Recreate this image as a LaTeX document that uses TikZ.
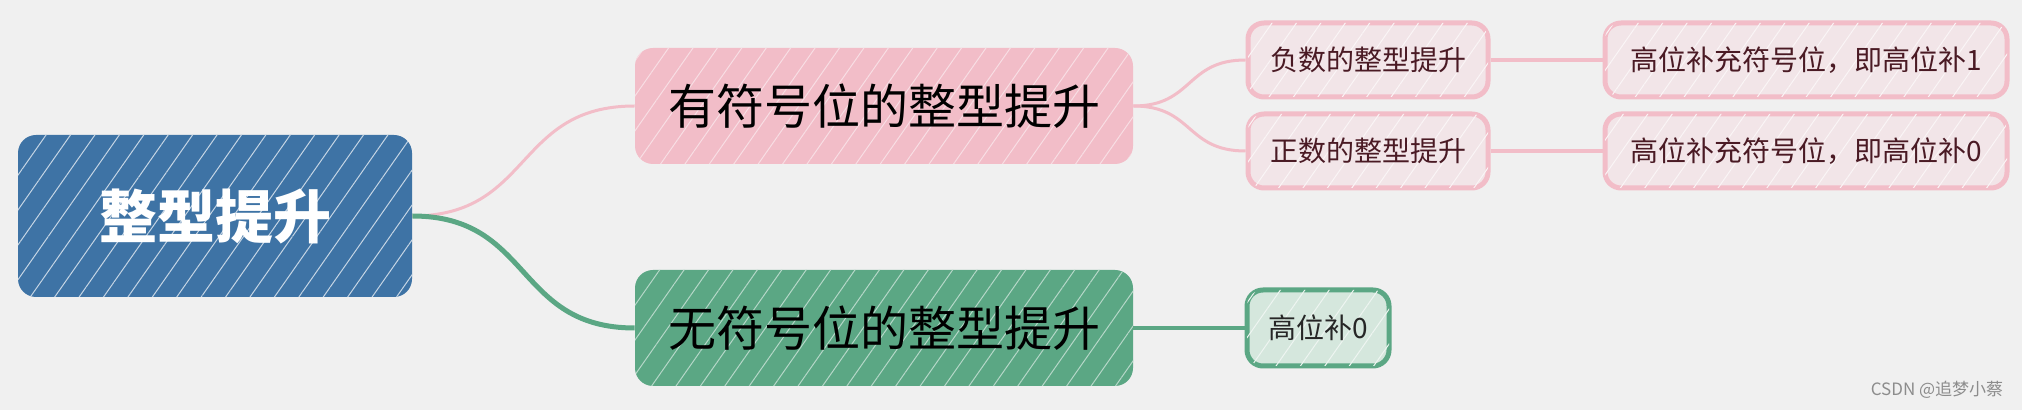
\documentclass[tikz,border=0pt]{standalone}
\usepackage{fontspec}
\newfontfamily\cjk{Noto Sans CJK SC}
\usepackage{tikz}
\usetikzlibrary{patterns.meta}
\usepackage{xcolor}
\definecolor{bgc}{HTML}{F0F0F0}
\definecolor{rootblue}{HTML}{3E73A5}
\definecolor{sigpink}{HTML}{F2BDC8}
\definecolor{unsgreen}{HTML}{5BA784}
\definecolor{leafpink}{HTML}{F2E5E8}
\definecolor{leafgreen}{HTML}{D5E7DD}
\definecolor{leaftext}{HTML}{4A1A24}

\begin{document}
\begin{tikzpicture}[x=0.5pt,y=-0.5pt]
			\tikzstyle{box} = [rounded corners=9pt, inner sep=0pt, font=\cjk]
			\tikzstyle{hatch} = [postaction={pattern={Lines[angle=55,distance=10pt,line width=0.5pt]}, pattern color=#1}]
			\tikzstyle{leaf} = [box, rounded corners=8pt, line width=2.5pt, minimum height=37pt, font=\cjk\fontsize{14}{16}\selectfont]

			\fill [bgc] (0,0) rectangle (2022,410);
			\useasboundingbox (0,0) rectangle (2022,410);

			\node [box,fill=rootblue,hatch=white!70!rootblue,minimum width=197pt,minimum height=81pt,text=white,font=\cjk\bfseries\fontsize{29}{32}\selectfont] (root) at (215,216) {整型提升};
			\node [box,fill=sigpink,hatch=white!50!sigpink,minimum width=249pt,minimum height=58pt,font=\cjk\fontsize{24}{28}\selectfont] (sig) at (884,106) {有符号位的整型提升};
			\node [box,fill=unsgreen,hatch=white!55!unsgreen,minimum width=249pt,minimum height=58pt,font=\cjk\fontsize{24}{28}\selectfont] (uns) at (884,328) {无符号位的整型提升};

			\node [leaf,draw=sigpink,fill=leafpink,hatch=white!60!leafpink,text=leaftext,minimum width=120pt] (neg) at (1368,60) {负数的整型提升};
			\node [leaf,draw=sigpink,fill=leafpink,hatch=white!60!leafpink,text=leaftext,minimum width=120pt] (pos) at (1368,151) {正数的整型提升};
			\node [leaf,draw=sigpink,fill=leafpink,hatch=white!60!leafpink,text=leaftext,minimum width=201pt] (neg1) at (1806,60) {高位补充符号位，即高位补1};
			\node [leaf,draw=sigpink,fill=leafpink,hatch=white!60!leafpink,text=leaftext,minimum width=201pt] (pos0) at (1806,151) {高位补充符号位，即高位补0};
			\node [leaf,draw=unsgreen,fill=leafgreen,hatch=white!60!leafgreen,text=black!85,minimum width=71pt,minimum height=38pt] (uns0) at (1318,328) {高位补0};

			\draw [line width=1.5pt, sigpink] (root.east) .. controls +(120,0) and +(-120,0) .. (sig.west);
			\draw [line width=2.5pt, unsgreen] (root.east) .. controls +(120,0) and +(-120,0) .. (uns.west);

			\draw [line width=1.5pt, sigpink] (sig.east) .. controls +(60,0) and +(-60,0) .. (neg.west);
			\draw [line width=1.5pt, sigpink] (sig.east) .. controls +(60,0) and +(-60,0) .. (pos.west);
			\draw [line width=2pt, sigpink] (neg) -- (neg1);
			\draw [line width=2pt, sigpink] (pos) -- (pos0);
			\draw [line width=2pt, unsgreen] (uns) -- (uns0);

			\node [font=\cjk\fontsize{8.5}{10}\selectfont, text=black!45] (wm) at (1937,390) {CSDN @追梦小蔡};

		\end{tikzpicture}
\end{document}
